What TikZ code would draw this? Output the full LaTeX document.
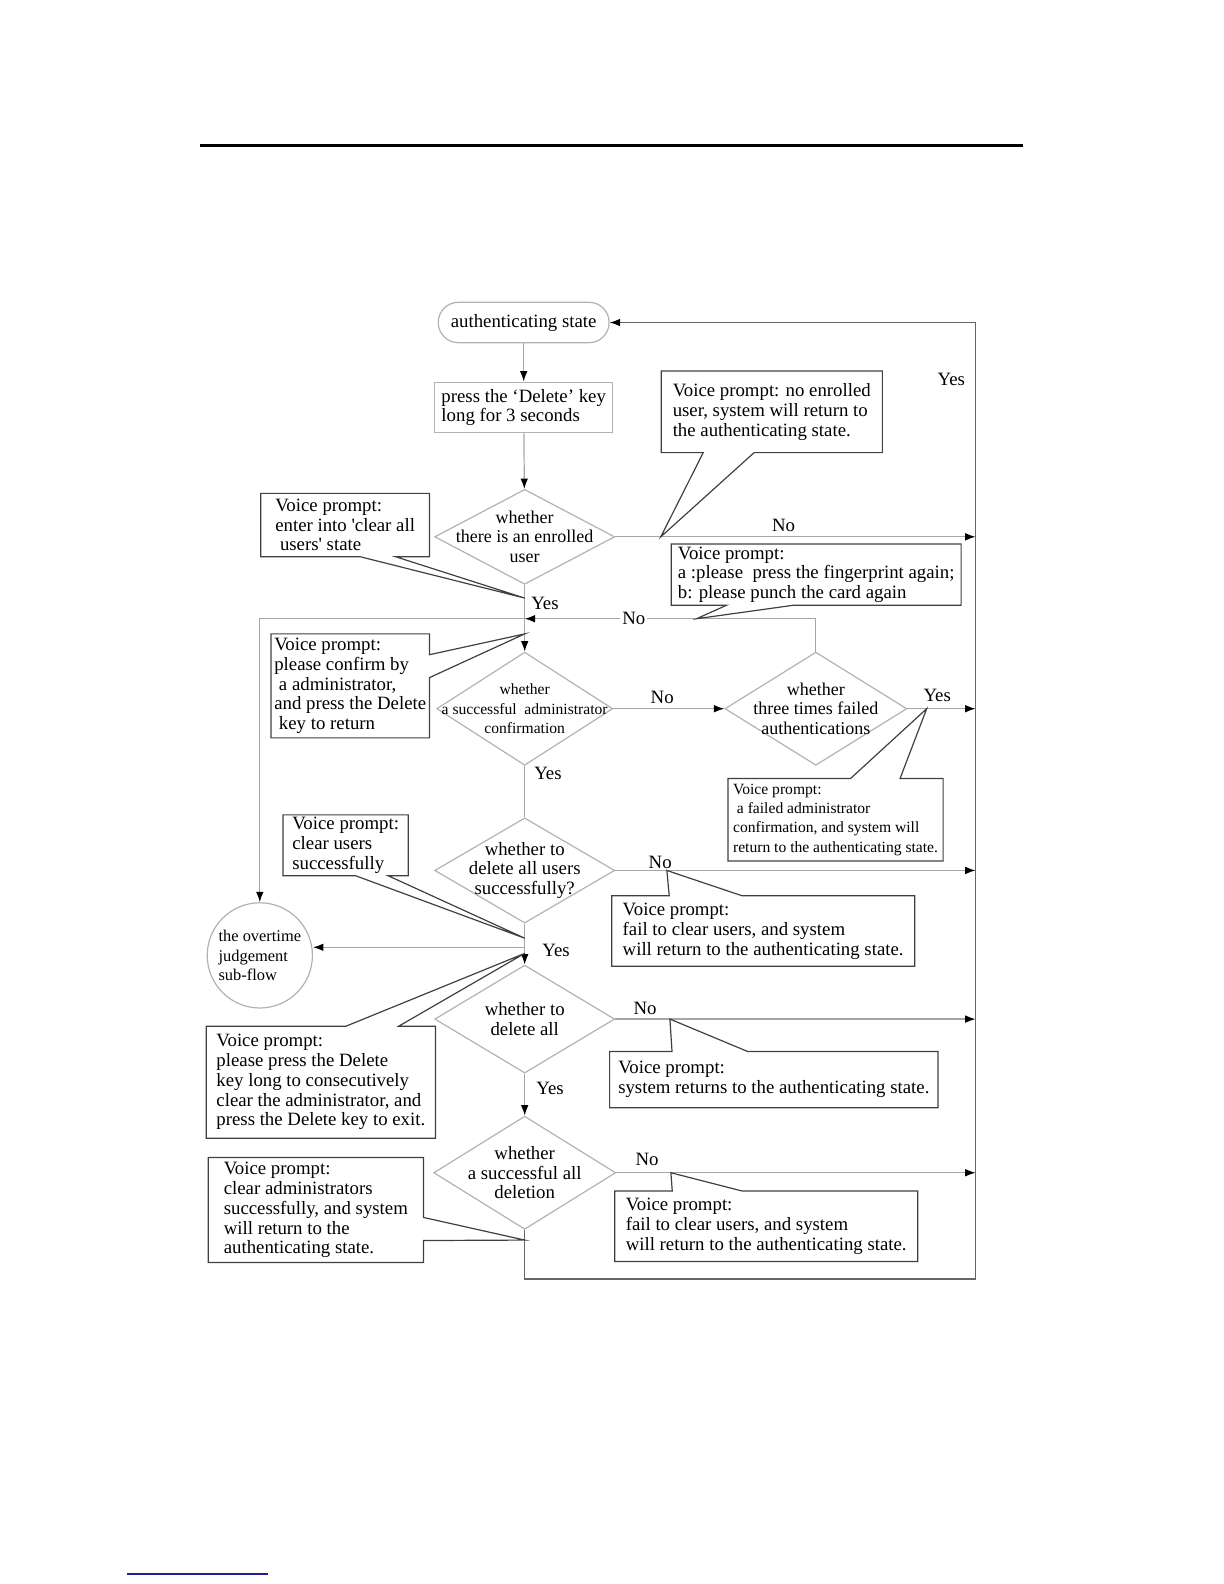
\documentclass[tikz,border=0pt]{standalone}
\usepackage{fontspec}
\setmainfont{Liberation Serif}
\usetikzlibrary{shapes.geometric,arrows.meta,calc}
\begin{document}
\begin{tikzpicture}[x=0.5055pt,y=-0.5055pt,
		flow/.style={draw=black!35,line width=0.6pt},
		arr/.style={flow,-{Latex[length=5.2pt,width=3.8pt,color=black]}},
		rail/.style={draw=black!60},
		decision/.style={diamond,draw=black!30,line width=0.6pt,inner sep=0pt},
		dtext/.style={align=center,inner sep=0pt,font=\fontsize{9}{9.9}\selectfont},
		voice/.style={align=left,inner xsep=1pt,inner ysep=1pt,anchor=north west,font=\fontsize{9.4}{9.9}\selectfont},
		small/.style={font=\fontsize{7.8}{9.6}\selectfont},
		outline/.style={draw=black!75,line width=0.6pt},
		lbl/.style={inner sep=1pt,font=\fontsize{9.4}{10}\selectfont}
		]
		\useasboundingbox (0pt,0pt) rectangle (612pt,-792pt);
		\draw[line width=1.5pt] (198,144) -- (1012,144);
		\draw[line width=0.7pt,draw={rgb,255:red,30;green,30;blue,140}] (126,1557) -- (265,1557);
		
		\node[draw=black!30,line width=0.6pt,rounded corners=10pt,minimum width=85.4pt,minimum height=20.2pt,font=\fontsize{9.4}{10}\selectfont] (start) at (518,319) {authenticating state};
		\node[draw=black!30,line width=0.6pt,minimum width=89pt,minimum height=25.3pt,align=left,font=\fontsize{9.4}{9.9}\selectfont] (press) at (518,403) {press the `Delete' key\\long for 3 seconds};
		
		\node[decision,minimum width=90pt,minimum height=47.5pt] (d1) at (519,531) {};
		\node[dtext] (d1t) at (d1.center) {whether\\there is an enrolled\\user};
		\node[decision,minimum width=88pt,minimum height=56.6pt] (d2) at (519,701) {};
		\node[dtext,font=\fontsize{7.8}{9.9}\selectfont] (d2t) at (d2.center) {whether\\a successful\ \ administrator\\confirmation};
		\node[decision,minimum width=91pt,minimum height=56.6pt] (d3) at (807,701) {};
		\node[dtext] (d3t) at (d3.center) {whether\\three times failed\\authentications};
		\node[decision,minimum width=90pt,minimum height=52.6pt] (d4) at (519,861) {};
		\node[dtext,font=\fontsize{9.4}{9.9}\selectfont] (d4t) at (d4.center) {whether to\\delete all users\\successfully?};
		\node[decision,minimum width=90pt,minimum height=54pt] (d5) at (519,1008) {};
		\node[dtext,font=\fontsize{9.4}{9.9}\selectfont] (d5t) at (d5.center) {whether to\\delete all};
		\node[decision,minimum width=91pt,minimum height=56.6pt] (d6) at (519,1160) {};
		\node[dtext,font=\fontsize{9.4}{9.9}\selectfont] (d6t) at (d6.center) {whether\\a successful all\\deletion};
		
		\node[circle,draw=black!30,line width=0.6pt,minimum size=52.6pt,inner sep=0pt,align=left,font=\fontsize{8.2}{9.6}\selectfont] (circ) at (257,945) {the overtime\\judgement\\sub-flow};
		
		\coordinate (rb) at (965,1265);
		\coordinate (j1) at (519,612);
		\coordinate (j2) at (519,937);
		
		\draw[arr] (start) -- (press);
		\draw[arr] (press) -- (d1);
		\draw[arr] (d1.east) -- (d1.east -| rb);
		\draw[flow] (d1.south) -- (j1);
		\draw[arr] (j1) -- (d2.north);
		\draw[arr] (d3.north) |- (j1);
		\draw[arr] (j1) -| (circ.north);
		\draw[arr] (d2.east) -- (d3.west);
		\draw[arr] (d3.east) -- (d3.east -| rb);
		\draw[flow] (d2.south) -- (d4.north);
		\draw[arr] (d4.east) -- (d4.east -| rb);
		\draw[flow] (d4.south) -- (j2);
		\draw[arr] (j2) -- (j2 -| circ.east);
		\draw[arr] (j2) -- (d5.north);
		\draw[arr] (d5.east) -- (d5.east -| rb);
		\draw[arr] (d5.south) -- (d6.north);
		\draw[arr] (d6.east) -- (d6.east -| rb);
		\draw[arr,rail] (d6.south) |- (rb) -- (rb |- start.east) -- (start.east);
		
		\node[lbl] (yes0) at (941,375) {Yes};
		\node[lbl] (no1) at (775,520) {No};
		\node[lbl] (yes1) at (539,597) {Yes};
		\node[lbl,fill=white] (no2) at (627,612) {No};
		\node[lbl] (no3) at (655,690) {No};
		\node[lbl] (yes3) at (927,688) {Yes};
		\node[lbl] (yes2) at (542,765) {Yes};
		\node[lbl] (no4) at (653,853) {No};
		\node[lbl] (yes4) at (550,940) {Yes};
		\node[lbl] (no5) at (638,997) {No};
		\node[lbl] (yes5) at (544,1077) {Yes};
		\node[lbl] (no6) at (640,1147) {No};
		
		\coordinate (t1) at ($(d1.east)+(45,0)$);
		\coordinate (t2) at ($(d1.south)+(0,13)$);
		\coordinate (t3) at ($(j1)+(170,0)$);
		\coordinate (t4) at ($(j1)+(0,15)$);
		\coordinate (t5) at ($(d3.east)+(19,0)$);
		\coordinate (t6) at ($(d4.east)+(51,0)$);
		\coordinate (t7) at ($(j2)+(0,-9)$);
		\coordinate (t8) at ($(j2)+(0,6)$);
		\coordinate (t9) at ($(d5.east)+(54,0)$);
		\coordinate (t10) at ($(d6.east)+(54,0)$);
		\coordinate (t11) at ($(d6.south)+(0,10)$);
		
		\node[voice,minimum width=110.2pt,minimum height=40.4pt] (c1) at (654,367) {Voice prompt: no enrolled\\user, system will return to\\the authenticating state.};
		\draw[outline] (c1.south west) -- (c1.north west) -- (c1.north east) -- (c1.south east) -- ($(c1.south west)!0.42!(c1.south east)$) -- (t1) -- ($(c1.south west)!0.19!(c1.south east)$) -- cycle;
		
		\node[voice,minimum width=83.9pt,minimum height=31.3pt] (c2) at (258,488) {Voice prompt:\\enter into \textquotesingle clear all\\\ users\textquotesingle\ state};
		\draw[outline] (c2.south west) -- (c2.north west) -- (c2.north east) -- (c2.south east) -- ($(c2.south west)!0.80!(c2.south east)$) -- (t2) -- ($(c2.south west)!0.59!(c2.south east)$) -- cycle;
		
		\node[voice,minimum width=144.5pt,minimum height=30.3pt] (c3) at (664,538) {Voice prompt:\\a :please\ \ press the fingerprint again;\\b: please punch the card again};
		\draw[outline] (c3.south west) -- (c3.north west) -- (c3.north east) -- (c3.south east) -- ($(c3.south west)!0.42!(c3.south east)$) -- (t3) -- ($(c3.south west)!0.19!(c3.south east)$) -- cycle;
		
		\node[voice,minimum width=78.9pt,minimum height=51.6pt] (c4) at (268,627) {Voice prompt:\\please confirm by\\\ a administrator,\\and press the Delete\\\ key to return};
		\draw[outline] (c4.south west) -- (c4.north west) -- (c4.north east) -- ($(c4.north east)!0.20!(c4.south east)$) -- (t4) -- ($(c4.north east)!0.42!(c4.south east)$) -- (c4.south east) -- cycle;
		
		\node[voice,small,minimum width=107.2pt,minimum height=40.9pt] (c5) at (720,770) {Voice prompt:\\\ a failed administrator\\confirmation, and system will\\return to the authenticating state.};
		\draw[outline] (c5.south west) -- (c5.north west) -- ($(c5.north west)!0.57!(c5.north east)$) -- (t5) -- ($(c5.north west)!0.80!(c5.north east)$) -- (c5.north east) -- (c5.south east) -- cycle;
		
		\node[voice,minimum width=151.1pt,minimum height=34.9pt] (c6) at (605,886) {Voice prompt:\\fail to clear users, and system\\will return to the authenticating state.};
		\draw[outline] (c6.south west) -- (c6.north west) -- ($(c6.north west)!0.19!(c6.north east)$) -- (t6) -- ($(c6.north west)!0.43!(c6.north east)$) -- (c6.north east) -- (c6.south east) -- cycle;
		
		\node[voice,minimum width=62.2pt,minimum height=29.3pt] (c7) at (280,806) {Voice prompt:\\clear users\\successfully};
		\draw[outline] (c7.south west) -- (c7.north west) -- (c7.north east) -- (c7.south east) -- ($(c7.south west)!0.84!(c7.south east)$) -- (t7) -- ($(c7.south west)!0.58!(c7.south east)$) -- cycle;
		
		\node[voice,minimum width=114.2pt,minimum height=55.6pt] (c8) at (204,1015) {Voice prompt:\\please press the Delete\\key long to consecutively\\clear the administrator, and\\press the Delete key to exit.};
		\draw[outline] (c8.south west) -- (c8.north west) -- ($(c8.north west)!0.61!(c8.north east)$) -- (t8) -- ($(c8.north west)!0.84!(c8.north east)$) -- (c8.north east) -- (c8.south east) -- cycle;
		
		\node[voice,minimum width=163.8pt,minimum height=27.8pt] (c9) at (603,1040) {Voice prompt:\\system returns to the authenticating state.};
		\draw[outline] (c9.south west) -- (c9.north west) -- ($(c9.north west)!0.19!(c9.north east)$) -- (t9) -- ($(c9.north west)!0.42!(c9.north east)$) -- (c9.north east) -- (c9.south east) -- cycle;
		
		\node[voice,minimum width=151.1pt,minimum height=34.9pt] (c10) at (608,1178) {Voice prompt:\\fail to clear users, and system\\will return to the authenticating state.};
		\draw[outline] (c10.south west) -- (c10.north west) -- ($(c10.north west)!0.19!(c10.north east)$) -- (t10) -- ($(c10.north west)!0.42!(c10.north east)$) -- (c10.north east) -- (c10.south east) -- cycle;
		
		\node[voice,minimum width=107.2pt,minimum height=52.1pt] (c11) at (206,1145) {Voice prompt:\\clear administrators\\successfully, and system\\will return to the\\authenticating state.};
		\draw[outline] (c11.south west) -- (c11.north west) -- (c11.north east) -- ($(c11.north east)!0.57!(c11.south east)$) -- (t11) -- ($(c11.north east)!0.79!(c11.south east)$) -- (c11.south east) -- cycle;
	\end{tikzpicture}
\end{document}
